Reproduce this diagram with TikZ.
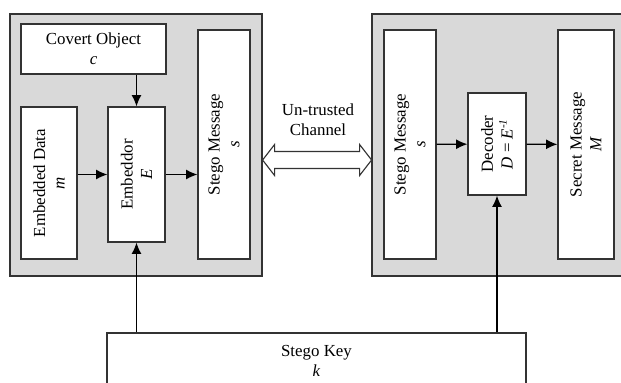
\documentclass[tikz,border=0pt]{standalone}
\usepackage{fontspec}
\setmainfont{Liberation Serif}
\usetikzlibrary{arrows.meta}
\definecolor{panelgray}{HTML}{D9D9D9}
\definecolor{linegray}{HTML}{333333}
\tikzset{
  panel/.style={draw=linegray, fill=panelgray, line width=0.8pt},
  box/.style={draw=linegray, fill=white, line width=0.8pt, align=center,
    inner sep=1pt, font=\fontsize{12}{14}\selectfont},
  vbox/.style={box, rotate=90},
  arr/.style={draw=black, line width=0.9pt, -{Latex[length=8pt,width=7pt]}}
}
\begin{document}
\begin{tikzpicture}[x=0.025cm,y=-0.025cm]
\useasboundingbox (0,0) rectangle (621,383);
\clip (0,0) rectangle (621,383);
% Emisor
\node[panel, minimum width=6.3cm, minimum height=6.55cm] (lp) at (136,145) {};
\node[box, minimum width=3.625cm, minimum height=1.25cm] (cover) at (93.5,49) {Covert Object\\\textit{c}};
\node[vbox, minimum width=3.8cm, minimum height=1.4cm] (data) at (49,183) {Embedded Data\\\textit{m}};
\node[vbox, minimum width=3.375cm, minimum height=1.425cm] (emb) at (136.5,174.5) {Embeddor\\\textit{E}};
\node[vbox, minimum width=5.725cm, minimum height=1.3cm] (smsgA) at (224,144.5) {Stego Message\\\textit{s}};
% Receptor
\node[panel, minimum width=6.95cm, minimum height=6.55cm] (rp) at (511,145) {};
\node[vbox, minimum width=5.725cm, minimum height=1.3cm] (smsgB) at (410,144.5) {Stego Message\\\textit{s}};
\node[vbox, minimum width=2.55cm, minimum height=1.45cm] (dec) at (497,144) {Decoder\\\textit{D} = \textit{E}\textsuperscript{\textit{-1}}};
\node[vbox, minimum width=5.725cm, minimum height=1.4cm] (secret) at (586,144.5) {Secret Message\\\textit{M}};
% Canal
\node[align=center, font=\fontsize{12}{14}\selectfont] (chanText) at (318,120) {Un-trusted\\Channel};
\coordinate (chL) at ([yshift=-0.375cm]lp.east);
\draw[draw=linegray, fill=white, line width=0.8pt, line join=miter]
  (chL) -- ++(12,-15.5) -- ++(0,7) -- ++(85,0) -- ++(0,-7) -- ++(12,15.5)
  -- ++(-12,15.5) -- ++(0,-7) -- ++(-85,0) -- ++(0,7) -- cycle;
% Clave
\node[box, minimum width=10.475cm, minimum height=1.4cm] (key) at (316.5,361) {Stego Key\\\textit{k}};
% Flechas
\draw[arr] (cover.south -| emb) -- (emb);
\draw[arr] (data.south |- emb) -- (emb);
\draw[arr] (emb) -- (emb -| smsgA.north);
\draw[arr] (smsgB) -- (dec);
\draw[arr] (dec) -- (secret);
\draw[arr] (key.north -| emb) -- (emb);
\draw[arr] (key.north -| dec) -- (dec);
\end{tikzpicture}
\end{document}
